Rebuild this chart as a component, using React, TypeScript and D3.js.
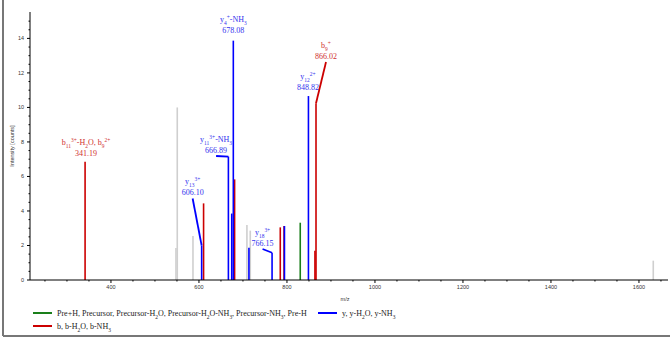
import * as d3 from "d3";
import React from "react";

// peak lists (m/z, intensity) per ion series
const grayMz = [547.7, 550.7, 586.4, 709.0, 716.6, 1632.5];
const grayInt = [1.85, 10.0, 2.55, 3.19, 2.86, 1.12];
const blueMz = [606.1, 666.89, 674.5, 678.08, 713.6, 766.15, 794.3, 848.82];
const blueInt = [2.0, 7.15, 3.85, 13.87, 1.87, 1.58, 3.13, 10.66];
const redMz = [341.19, 610.5, 681.0, 784.8, 793.4, 863.6, 866.02];
const redInt = [6.85, 4.44, 5.83, 3.05, 3.13, 1.7, 10.24];
const greenMz = [830.2];
const greenInt = [3.32];

// annotations
const annMz = [341.19, 606.1, 666.89, 678.08, 766.15, 848.82, 866.02];
const annInt = [6.85, 2.0, 7.15, 13.87, 1.58, 10.66, 10.24];
const annName = ["b_{11}^{3+}-H_2O, b_9^{2+}", "y_{13}^{3+}", "y_{11}^{3+}-NH_3", "y_4^+-NH_3", "y_{18}^{3+}", "y_{12}^{2+}", "b_9^+"];
const annSeries = ["b", "y", "y", "y", "y", "y", "b"];
// label placement relative to peak top (px)
const annDx = [1, -9, -12.3, 0, -9.5, -0.5, 10];
const annDy = [-5.7, -50, -3.6, -7.6, -6.7, -6.5, -44.3];
const annLeader = [false, true, true, false, true, false, true];

const xTicks = [400, 600, 800, 1000, 1200, 1400, 1600];
const yTicks = [0, 2, 4, 6, 8, 10, 12, 14];

const legendNames = [
  "Pre+H, Precursor, Precursor-H_2O, Precursor-H_2O-NH_3, Precursor-NH_3, Pre-H",
  "y, y-H_2O, y-NH_3",
  "b, b-H_2O, b-NH_3",
];

const BLUE = "#0000ff";
const RED = "#cc0000";
const GREEN = "#1a7f1a";
const GRAY = "#cfcfcf";
const serif = "'Liberation Serif', 'DejaVu Serif', serif";
const sans = "'Liberation Sans', Arial, sans-serif";

function parseRich(s: string) {
  const parts: { t: string; k: string }[] = [];
  let i = 0;
  let buf = "";
  while (i < s.length) {
    const c = s[i];
    if (c === "_" || c === "^") {
      if (buf) parts.push({ t: buf, k: "n" });
      buf = "";
      let t = "";
      if (s[i + 1] === "{") {
        const j = s.indexOf("}", i);
        t = s.slice(i + 2, j);
        i = j + 1;
      } else {
        t = s[i + 1];
        i += 2;
      }
      parts.push({ t, k: c === "_" ? "sub" : "sup" });
    } else {
      buf += c;
      i++;
    }
  }
  if (buf) parts.push({ t: buf, k: "n" });
  return parts;
}

function Rich({ s, size }: { s: string; size: number }) {
  return (
    <>
      {parseRich(s).map((p, i) =>
        p.k === "n" ? (
          <tspan key={i}>{p.t}</tspan>
        ) : (
          <tspan key={i} fontSize={size * 0.68} baselineShift={p.k === "sub" ? "sub" : "super"}>
            {p.t}
          </tspan>
        )
      )}
    </>
  );
}

export default function App() {
  document.body.style.margin = "0";
  const W = 670;
  const H = 338;
  const x = d3.scaleLinear().domain([216, 1666]).range([30, 668]);
  const y = d3.scaleLinear().domain([0, 15.53]).range([280, 12]);

  const minorX = d3.range(250, 1666, 50).filter(v => !xTicks.includes(v));
  const minorY = d3.range(0.5, 15.5, 0.5).filter(v => !yTicks.includes(v));

  const bars = (mz: number[], ints: number[], color: string, w = 1.6) =>
    mz.map((m, i) => (
      <line key={color + i} x1={x(m)} x2={x(m)} y1={y(0)} y2={y(ints[i])} stroke={color} strokeWidth={w} />
    ));

  return (
    <svg width={W} height={H} style={{ display: "block" }}>
      <rect width={W} height={H} fill="#fff" />
      {/* frame */}
      <line x1={3} x2={3} y1={0} y2={336} stroke="#777" strokeWidth={2} />
      <line x1={3} x2={W} y1={336} y2={336} stroke="#777" strokeWidth={2} />

      {/* peaks */}
      {bars(grayMz, grayInt, GRAY)}
      {bars(greenMz, greenInt, GREEN)}
      {bars(redMz, redInt, RED)}
      {bars(blueMz, blueInt, BLUE)}

      {/* axes */}
      <line x1={30} x2={30} y1={12} y2={280} stroke="#000" />
      <line x1={30} x2={668} y1={280} y2={280} stroke="#000" />
      {yTicks.map(t => (
        <g key={"yt" + t}>
          <line x1={27} x2={30} y1={y(t)} y2={y(t)} stroke="#000" />
          <text x={24} y={y(t) + 2} textAnchor="end" fontSize={5.5} fontFamily={sans} fill="#333">
            {t}
          </text>
        </g>
      ))}
      {minorY.map(t => (
        <line key={"ym" + t} x1={28.5} x2={30} y1={y(t)} y2={y(t)} stroke="#000" />
      ))}
      {xTicks.map(t => (
        <g key={"xt" + t}>
          <line x1={x(t)} x2={x(t)} y1={280} y2={283} stroke="#000" />
          <text x={x(t)} y={289} textAnchor="middle" fontSize={5.5} fontFamily={sans} fill="#333">
            {t}
          </text>
        </g>
      ))}
      {minorX.map(t => (
        <line key={"xm" + t} x1={x(t)} x2={x(t)} y1={280} y2={281.5} stroke="#000" />
      ))}
      <text x={345} y={301} textAnchor="middle" fontSize={5.5} fontFamily={sans} fill="#333">
        m/z
      </text>
      <text transform="translate(14,146) rotate(-90)" textAnchor="middle" fontSize={5.5} fontFamily={sans} fill="#333">
        Intensity [counts]
      </text>

      {/* annotations */}
      {annMz.map((m, i) => {
        const bx = x(m);
        const by = y(annInt[i]);
        const lx = bx + annDx[i];
        const l2 = by + annDy[i];
        const tc = annSeries[i] === "b" ? "#d03030" : "#3333ee";
        const lc = annSeries[i] === "b" ? RED : BLUE;
        return (
          <g key={"ann" + i}>
            <text x={lx} y={l2 - 11} textAnchor="middle" fontSize={8} fontFamily={serif} fill={tc}>
              <Rich s={annName[i]} size={8} />
            </text>
            <text x={lx} y={l2} textAnchor="middle" fontSize={8} fontFamily={serif} fill={tc}>
              {m.toFixed(2)}
            </text>
            {annLeader[i] && <line x1={lx} y1={l2 + 3} x2={bx} y2={by} stroke={lc} strokeWidth={1.8} />}
          </g>
        );
      })}

      {/* legend */}
      {[
        { c: GREEN, lx: 33, ly: 313, n: legendNames[0] },
        { c: BLUE, lx: 318, ly: 313, n: legendNames[1] },
        { c: RED, lx: 33, ly: 326, n: legendNames[2] },
      ].map((d, i) => (
        <g key={"lg" + i}>
          <line x1={d.lx} x2={d.lx + 19} y1={d.ly} y2={d.ly} stroke={d.c} strokeWidth={2} />
          <text x={d.lx + 24} y={d.ly + 2.8} fontSize={8} fontFamily={serif} fill="#222">
            <Rich s={d.n} size={8} />
          </text>
        </g>
      ))}
    </svg>
  );
}
